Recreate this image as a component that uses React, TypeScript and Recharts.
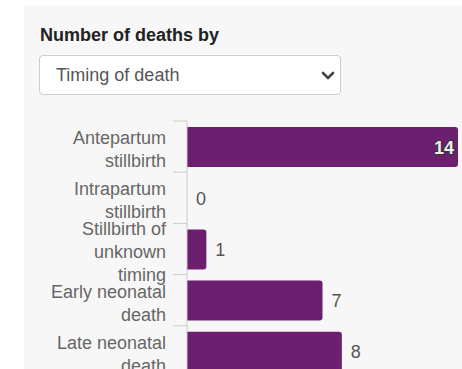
import React from "react";
import { BarChart, Bar, XAxis, YAxis, LabelList } from "recharts";

// Categories of perinatal death (line breaks mark wrapped tick labels)
const categories = [
  "Antepartum\nstillbirth",
  "Intrapartum\nstillbirth",
  "Stillbirth of\nunknown\ntiming",
  "Early neonatal\ndeath",
  "Late neonatal\ndeath",
];

// Number of deaths per category
const deaths = [14, 0, 1, 7, 8];

const xDomain = [0, 14];

const FONT = "'Liberation Sans', Arial, Helvetica, sans-serif";
const BAR_COLOR = "#6b1f6e";
const CHART_W = 462;
const CHART_H = 380;
const MARGIN = { top: 121, right: 4, bottom: 3, left: 0 };
const PLOT_RIGHT = CHART_W - MARGIN.right;

const data = categories.map((category, i) => ({ category, deaths: deaths[i] }));

const LINE_H = 23;

function CategoryTick(props: any) {
  const { x, y, payload } = props;
  const lines = String(payload.value).split("\n");
  const half = payload.offset ?? 25.6;
  const firstBaseline = y + 9 - ((lines.length - 1) * LINE_H) / 2;
  return (
    <g>
      <line x1={x - 14} x2={x} y1={y - half} y2={y - half} stroke="#cccccc" strokeWidth={1} />
      <text
        x={x - 21}
        y={firstBaseline}
        textAnchor="end"
        fill="#666666"
        fontSize={18}
        fontFamily={FONT}
      >
        {lines.map((l, i) => (
          <tspan key={i} x={x - 21} dy={i === 0 ? 0 : LINE_H}>
            {l}
          </tspan>
        ))}
      </text>
    </g>
  );
}

function num(v: any, fallback: number) {
  const n = Number(v);
  return Number.isFinite(n) ? n : fallback;
}

function ValueLabel(props: any) {
  const vb = props.viewBox || {};
  const x = num(props.x, num(vb.x, 0));
  const y = num(props.y, num(vb.y, 0));
  const width = num(props.width, num(vb.width, 0));
  const height = num(props.height, num(vb.height, 0));
  const text = String(props.value);
  const textW = text.length * 10;
  const end = x + width;
  const cy = y + height / 2 + 6.5;
  if (end + 9 + textW > PLOT_RIGHT) {
    return (
      <text
        x={end - 4}
        y={cy}
        textAnchor="end"
        fontSize={18}
        fontWeight="bold"
        fontFamily={FONT}
        fill="#eeeeee"
        stroke="#333333"
        strokeWidth={2}
        strokeLinejoin="round"
        paintOrder="stroke"
      >
        {text}
      </text>
    );
  }
  return (
    <text x={end + 9} y={cy} textAnchor="start" fontSize={18} fontFamily={FONT} fill="#555555">
      {text}
    </text>
  );
}

export default function App() {
  return (
    <div
      style={{
        position: "absolute",
        left: 0,
        top: 0,
        width: 462,
        height: 369,
        overflow: "hidden",
        background: "#ffffff",
        fontFamily: FONT,
      }}
    >
      <div
        style={{
          position: "absolute",
          left: 24,
          top: 5,
          right: 0,
          bottom: 0,
          background: "#f7f7f7",
        }}
      />
      <div style={{ position: "absolute", left: 0, top: 0 }}>
        <BarChart
          layout="vertical"
          width={CHART_W}
          height={CHART_H}
          data={data}
          margin={MARGIN}
        >
          <XAxis type="number" domain={xDomain} hide />
          <YAxis
            type="category"
            dataKey="category"
            width={187}
            interval={0}
            tickLine={false}
            tickSize={0}
            tickMargin={0}
            axisLine={{ stroke: "#cccccc" }}
            tick={<CategoryTick />}
          />
          <Bar
            dataKey="deaths"
            fill={BAR_COLOR}
            barSize={40}
            minPointSize={0.01}
            radius={[0, 3, 3, 0]}
            isAnimationActive={false}
          >
            <LabelList dataKey="deaths" content={<ValueLabel />} />
          </Bar>
        </BarChart>
      </div>
      <div
        style={{
          position: "absolute",
          left: 40,
          top: 24,
          fontSize: 18,
          fontWeight: "bold",
          color: "#222222",
          lineHeight: "22px",
          whiteSpace: "nowrap",
        }}
      >
        Number of deaths by
      </div>
      <div
        style={{
          position: "absolute",
          left: 39,
          top: 55,
          width: 302,
          height: 40,
          boxSizing: "border-box",
          border: "1px solid #cccccc",
          borderRadius: 4,
          background: "#ffffff",
        }}
      >
        <div
          style={{
            position: "absolute",
            left: 16,
            top: 8,
            fontSize: 18,
            color: "#555555",
            lineHeight: "22px",
            whiteSpace: "nowrap",
          }}
        >
          Timing of death
        </div>
        <svg
          width={14}
          height={10}
          style={{ position: "absolute", left: 281, top: 15 }}
        >
          <polyline
            points="2,2 7,7 12,2"
            fill="none"
            stroke="#444444"
            strokeWidth={2.6}
            strokeLinecap="round"
            strokeLinejoin="round"
          />
        </svg>
      </div>
    </div>
  );
}
